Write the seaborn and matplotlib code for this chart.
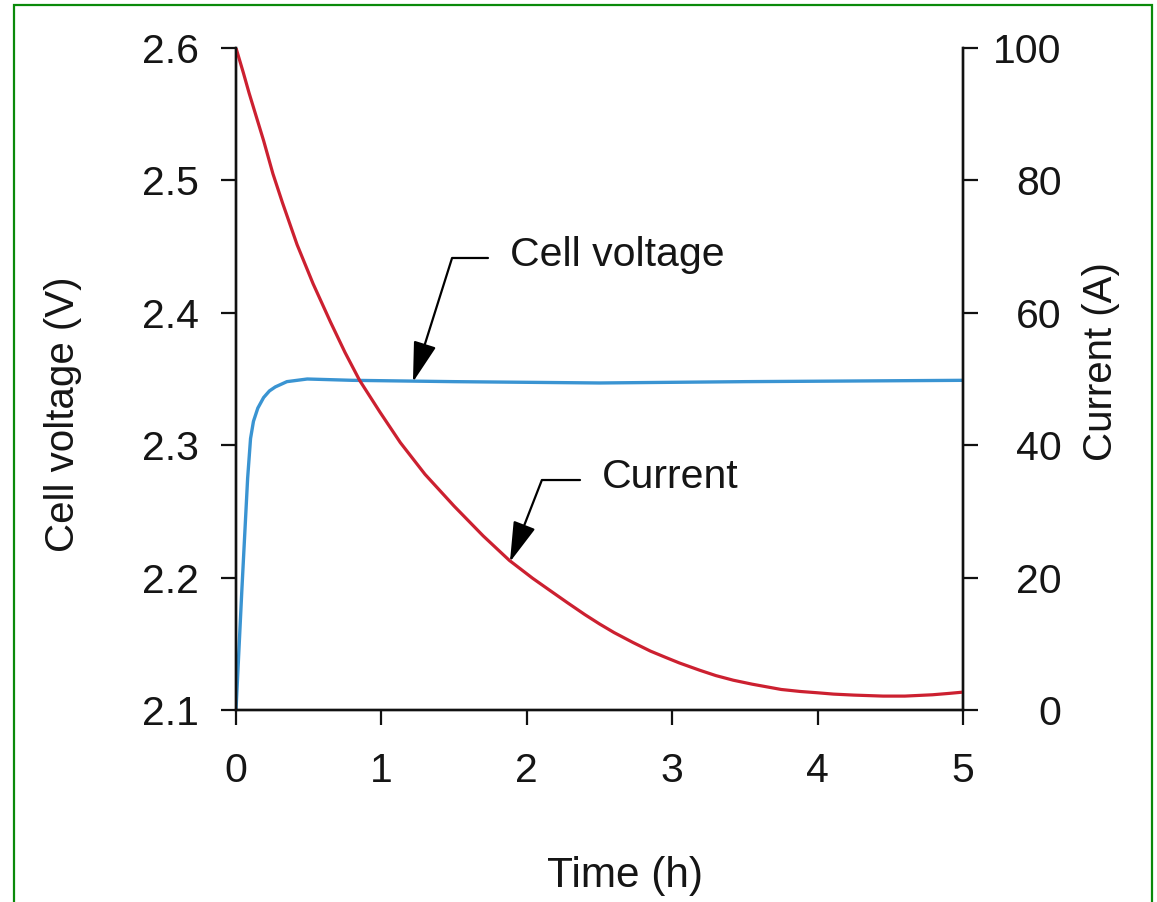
import numpy as np
import pandas as pd
import seaborn as sns
import matplotlib.pyplot as plt
from matplotlib.patches import Rectangle

# cell voltage (left axis)
time_v = [0, 0.04, 0.08, 0.10, 0.12, 0.15, 0.19, 0.23, 0.27, 0.35, 0.49, 0.8, 1.5, 2.5, 3.5, 5.0]
voltage = [2.10, 2.19, 2.275, 2.305, 2.318, 2.328, 2.336, 2.341, 2.344, 2.348, 2.350, 2.349,
           2.348, 2.347, 2.348, 2.349]

# current (right axis)
time_i = [0, 0.05, 0.09, 0.19, 0.254, 0.32, 0.42, 0.53, 0.65, 0.75, 0.85, 0.99, 1.13, 1.3,
          1.5, 1.7, 1.88, 2.04, 2.15, 2.28, 2.4, 2.5, 2.6, 2.73, 2.85, 2.96, 3.05, 3.19, 3.3,
          3.42, 3.55, 3.65, 3.75, 3.88, 4.0, 4.11, 4.25, 4.45, 4.6, 4.79, 4.9, 5.0]
current = [100, 96.3, 93.2, 86.0, 81.0, 76.6, 70.3, 64.4, 58.6, 54.0, 49.8, 45.0, 40.4, 35.6,
           30.8, 26.3, 22.6, 19.9, 18.2, 16.2, 14.4, 13.0, 11.7, 10.2, 8.9, 7.9, 7.1, 6.0, 5.2,
           4.5, 3.9, 3.5, 3.1, 2.8, 2.6, 2.4, 2.25, 2.1, 2.1, 2.3, 2.5, 2.7]

x_ticks = [0, 1, 2, 3, 4, 5]
v_ticks = [2.1, 2.2, 2.3, 2.4, 2.5, 2.6]
i_ticks = [0, 20, 40, 60, 80, 100]

df_v = pd.DataFrame({'Time': time_v, 'Voltage': voltage})
df_i = pd.DataFrame({'Time': time_i, 'Current': current})

sns.set_style('ticks')
plt.rcParams['font.family'] = ['Liberation Sans', 'DejaVu Sans']

RED = '#cc2030'
BLUE = '#3a94d2'
TXT = '#151515'
FS = 29.5

fig = plt.figure(figsize=(11.57, 9.02), dpi=100)
ax = fig.add_axes([236 / 1157, 192 / 902, 727 / 1157, 662 / 902])
ax2 = ax.twinx()

sns.lineplot(data=df_v, x='Time', y='Voltage', ax=ax, color=BLUE, linewidth=2.4,
             solid_joinstyle='round', solid_capstyle='round')
sns.lineplot(data=df_i, x='Time', y='Current', ax=ax2, color=RED, linewidth=2.3,
             solid_joinstyle='round', solid_capstyle='round')

ax.set_xlim(0, 5)
ax.set_ylim(2.1, 2.6)
ax2.set_ylim(0, 100)
ax.set_xticks(x_ticks)
ax.set_yticks(v_ticks)
ax.set_yticklabels([f'{v:.1f}' for v in v_ticks])
ax2.set_yticks(i_ticks)

for a in (ax, ax2):
    a.spines['top'].set_visible(False)
    for s in ('left', 'right', 'bottom'):
        a.spines[s].set_linewidth(1.7)
        a.spines[s].set_color('#111111')

ax.tick_params(axis='y', direction='out', length=11, width=1.6, labelsize=FS, pad=16, colors='#111111', labelcolor=TXT)
ax.tick_params(axis='x', direction='out', length=11, width=1.6, labelsize=FS, pad=19, colors='#111111', labelcolor=TXT)
ax2.tick_params(axis='y', direction='out', length=11, width=1.6, labelsize=FS, pad=60, colors='#111111', labelcolor=TXT)
for lab in ax2.get_yticklabels():
    lab.set_horizontalalignment('right')

ax.set_xlabel('Time (h)', fontsize=FS + 1, color=TXT)
ax.set_ylabel('Cell voltage (V)', fontsize=FS - 0.5, color=TXT)
ax2.set_ylabel('Current (A)', fontsize=FS - 0.5, color=TXT)
ax.xaxis.set_label_coords(0.535, -0.221)
ax.yaxis.set_label_coords(-0.212, 0.446)
ax2.yaxis.set_label_coords(1.164, 0.526)

# callouts with bent leader lines
arrow = dict(arrowstyle='-|>,head_length=2.5,head_width=0.72', color='black', lw=1.6,
             mutation_scale=10, shrinkA=0, shrinkB=0)
ax.annotate('', xy=(1.217, 2.3477), xytext=(1.733, 2.4414),
            arrowprops=dict(arrow, connectionstyle='angle,angleA=0,angleB=72.5,rad=0'))
ax.text(1.884, 2.4437, 'Cell voltage', fontsize=FS, color=TXT, va='center', ha='left')
ax.annotate('', xy=(1.884, 2.2118), xytext=(2.366, 2.2737),
            arrowprops=dict(arrow, connectionstyle='angle,angleA=0,angleB=68.7,rad=0'))
ax.text(2.517, 2.276, 'Current', fontsize=FS, color=TXT, va='center', ha='left')

# green frame around the figure
fig.patches.append(Rectangle((14 / 1157, -0.05), 1138 / 1157, 1.05 - 5 / 902, transform=fig.transFigure,
                             fill=False, edgecolor='#0a8a0a', linewidth=1.6))

fig.savefig('out.png', dpi=100)
